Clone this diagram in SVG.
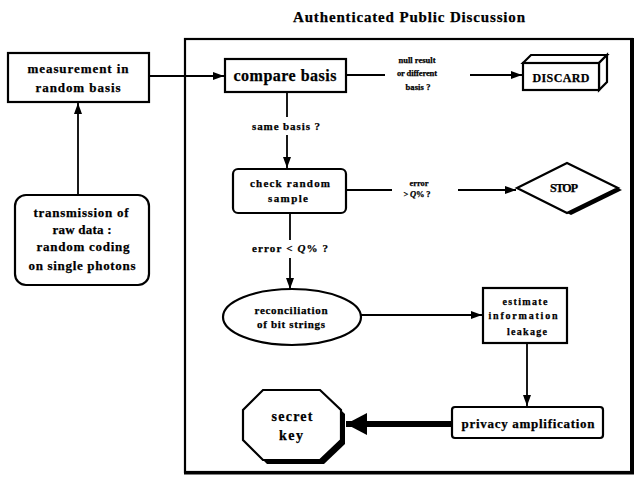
<svg xmlns="http://www.w3.org/2000/svg" width="638" height="477" viewBox="0 0 638 477">
<style>
text{font-family:"Liberation Serif","Times New Roman",serif;font-weight:bold;fill:#000;stroke:#000;stroke-width:0.25;text-anchor:middle}
.box{fill:#fff;stroke:#000;stroke-width:2.2}
.ln{fill:none;stroke:#000;stroke-width:1.8}
.s8{font-size:8.5px}.s10{font-size:10px}.s11{font-size:11px}.s12{font-size:12px}.s13{font-size:13px}.s14{font-size:14px}.s15{font-size:15px}.s16{font-size:16px}
.it{font-style:italic}
</style>
<defs>
<marker id="ah" viewBox="0 0 11 8" refX="11" refY="4" markerWidth="11" markerHeight="8" orient="auto" markerUnits="userSpaceOnUse"><path d="M0,0 L11,4 L0,8 z" fill="#000"/></marker>
<marker id="ahb" viewBox="0 0 21 22" refX="21" refY="11" markerWidth="21" markerHeight="22" orient="auto" markerUnits="userSpaceOnUse"><path d="M0,0 L21,11 L0,22 z" fill="#000"/></marker>
</defs>
<rect width="638" height="477" fill="#fff"/>
<text class="s15" x="409" y="22" textLength="232">Authenticated Public Discussion</text>
<g id="frame">
<rect x="185" y="39" width="447" height="433" fill="none" stroke="#000" stroke-width="2.2"/>
<line x1="632" y1="38" x2="632" y2="474" stroke="#000" stroke-width="4"/>
<line x1="184" y1="473" x2="634" y2="473" stroke="#000" stroke-width="3"/>
</g>
<g id="connectors">
<line class="ln" x1="78" y1="195" x2="78" y2="103" marker-end="url(#ah)"/>
<line class="ln" x1="149" y1="76" x2="224" y2="76" marker-end="url(#ah)"/>
<line class="ln" x1="346" y1="75" x2="385" y2="75"/>
<line class="ln" x1="470" y1="75" x2="522" y2="75" marker-end="url(#ah)"/>
<line class="ln" x1="287" y1="92" x2="287" y2="117"/>
<line class="ln" x1="287" y1="135" x2="287" y2="168" marker-end="url(#ah)"/>
<line class="ln" x1="346" y1="190" x2="392" y2="190"/>
<line class="ln" x1="458" y1="190" x2="516" y2="190" marker-end="url(#ah)"/>
<line class="ln" x1="290" y1="213" x2="290" y2="240"/>
<line class="ln" x1="290" y1="258" x2="290" y2="289" marker-end="url(#ah)"/>
<line class="ln" x1="361" y1="315" x2="482" y2="315" marker-end="url(#ah)"/>
<line class="ln" x1="527" y1="343" x2="527" y2="406" marker-end="url(#ah)"/>
<line x1="452" y1="424" x2="346" y2="424" stroke="#000" stroke-width="6" marker-end="url(#ahb)"/>
<text class="s8" x="417" y="63" textLength="37">null result</text>
<text class="s8" x="417" y="76" textLength="40">or different</text>
<text class="s8" x="418" y="90" textLength="25">basis ?</text>
<text class="s11" x="286" y="130" textLength="68">same basis ?</text>
<text class="s8" x="419" y="186" textLength="19">error</text>
<text class="s8" x="417" y="197" textLength="27">&gt; <tspan class="it">Q</tspan>% ?</text>
<text class="s11" x="290" y="252" textLength="76">error &lt; <tspan class="it">Q</tspan>% ?</text>
</g>
<g id="measurement">
<rect class="box" x="8" y="53" width="141" height="49"/>
<text class="s13" x="78" y="73" textLength="101">measurement in</text>
<text class="s13" x="78" y="92" textLength="85">random basis</text>
</g>
<g id="transmission">
<rect class="box" x="15" y="195" width="134" height="90" rx="11"/>
<text class="s13" x="81" y="217" textLength="95">transmission of</text>
<text class="s13" x="82" y="234" textLength="59">raw data :</text>
<text class="s13" x="83" y="251" textLength="93">random coding</text>
<text class="s13" x="82" y="270" textLength="107">on single photons</text>
</g>
<g id="compare">
<rect class="box" x="225" y="59" width="121" height="33"/>
<text class="s16" x="285" y="81" textLength="103">compare basis</text>
</g>
<g id="discard">
<path d="M523,63 L531,55 L607,55 L599,63 Z" class="box" stroke-width="1.8"/>
<path d="M599,63 L607,55 L607,82 L599,90 Z" class="box" stroke-width="1.8"/>
<rect class="box" x="523" y="63" width="76" height="27"/>
<text class="s12" x="561" y="82" textLength="57">DISCARD</text>
</g>
<g id="check">
<rect class="box" x="233" y="169" width="113" height="44" rx="5"/>
<text class="s11" x="290" y="187" textLength="80">check random</text>
<text class="s11" x="288" y="202" textLength="40">sample</text>
</g>
<g id="stop">
<polygon points="521,190 571,165 622,190 571,215" fill="#000"/>
<polygon points="517,188 567,163 618,188 567,213" class="box" stroke-width="1.8"/>
<text class="s12" x="564" y="192" textLength="28">STOP</text>
</g>
<g id="reconciliation">
<ellipse class="box" cx="292" cy="317" rx="69" ry="28" stroke-width="1.6"/>
<text class="s11" x="291" y="314" textLength="73">reconciliation</text>
<text class="s11" x="291" y="328" textLength="68">of bit strings</text>
</g>
<g id="estimate">
<rect class="box" x="483" y="288" width="84" height="55"/>
<text class="s10" x="525" y="305" textLength="45">estimate</text>
<text class="s10" x="523" y="319" textLength="69">information</text>
<text class="s10" x="527" y="335" textLength="40">leakage</text>
</g>
<g id="privacy">
<rect class="box" x="452" y="407" width="151" height="31" rx="3"/>
<text class="s13" x="528" y="428" textLength="133">privacy amplification</text>
</g>
<g id="secret">
<polygon points="267,394 324,394 345,414 345,444 324,464 267,464 247,444 247,414" fill="#000"/>
<polygon points="263,390 320,390 341,410 341,440 320,460 263,460 243,440 243,410" class="box"/>
<text class="s14" x="292" y="421" textLength="41">secret</text>
<text class="s14" x="291" y="440" textLength="24">key</text>
</g>
</svg>
